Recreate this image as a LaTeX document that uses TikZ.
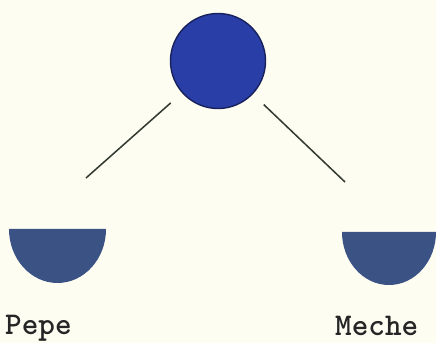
\documentclass[tikz,border=0pt]{standalone}
\usepackage{fontspec}
\usepackage{xcolor}

\definecolor{paper}{RGB}{253,253,242}
\definecolor{ballblue}{RGB}{42,62,168}
\definecolor{bowlblue}{RGB}{58,82,132}
\definecolor{stick}{RGB}{50,58,50}

\begin{document}
\begin{tikzpicture}[x=0.03cm,y=-0.03cm,
  ball/.style={circle,fill=ballblue,draw=ballblue!55!black,line width=1.2pt,
    minimum size=2.85cm,inner sep=0pt},
  bowl/.style={fill=bowlblue},
  branch/.style={draw=stick,line width=1.3pt,shorten <=0.45cm},
  who/.style={font=\ttfamily\bfseries\fontsize{27}{27}\selectfont,
    text=black!85,inner sep=0pt,anchor=base west}]

%------------------------------------------------
% Paper
%------------------------------------------------

\fill[paper] (0,0) rectangle (436,343);
\useasboundingbox (0,0) rectangle (436,343);

%------------------------------------------------
% Ball
%------------------------------------------------

\node[ball] (root) at (218,61) {};

%------------------------------------------------
% Branches
%------------------------------------------------

\coordinate (pepeEnd)  at ( 86,178);
\coordinate (mecheEnd) at (345,182);

\draw[branch] (root) -- (pepeEnd);
\draw[branch] (root) -- (mecheEnd);

%------------------------------------------------
% Bowls
%------------------------------------------------

\fill[bowl] (9,229) -- (106,229)
  arc[start angle=0,end angle=180,x radius=48.5,y radius=54] -- cycle;
\fill[bowl] (342,232) -- (436,232)
  arc[start angle=0,end angle=180,x radius=47,y radius=53] -- cycle;

%------------------------------------------------
% Names
%------------------------------------------------

\node[who] (pepe)  at (5,335)   {Pepe};
\node[who] (meche) at (335,336) {Meche};

\end{tikzpicture}
\end{document}
